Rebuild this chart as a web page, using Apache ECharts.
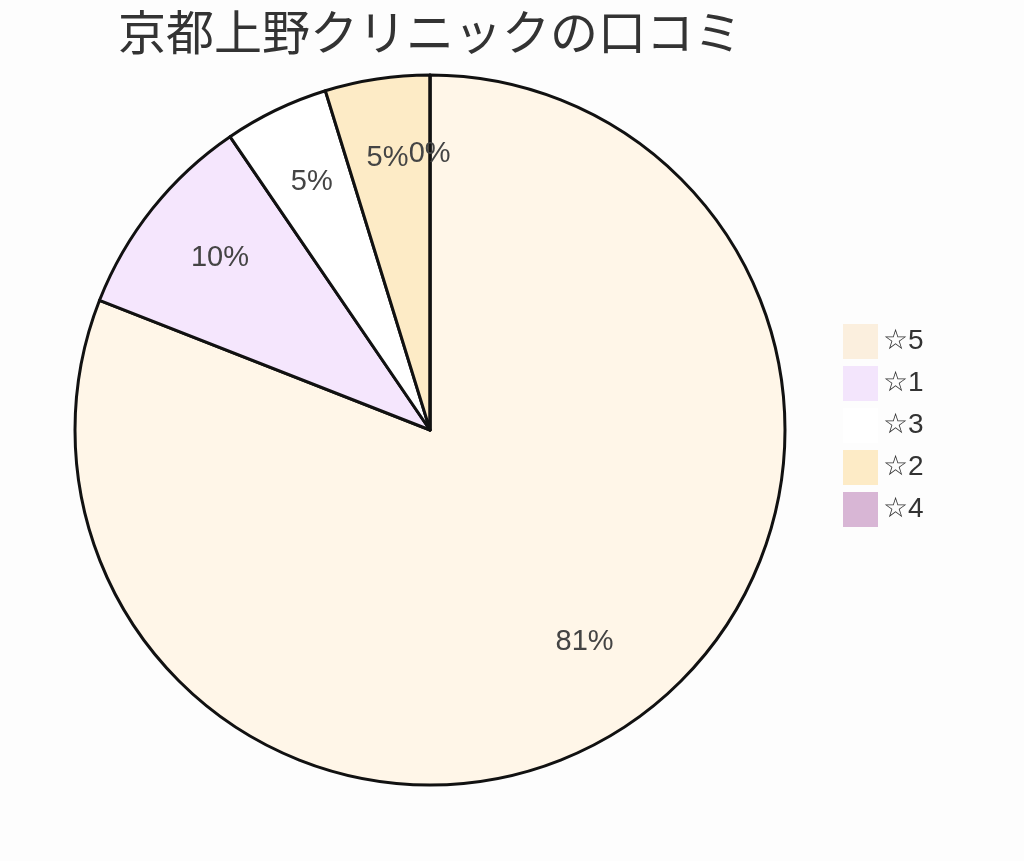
<!DOCTYPE html>
<html>
<head>
<meta charset="utf-8">
<script src="https://cdn.jsdelivr.net/npm/echarts@6/dist/echarts.min.js"></script>
<style>
  html, body { margin: 0; padding: 0; background: #fdfdfd; }
  #charts { width: 1024px; height: 861px; }
</style>
</head>
<body>
<div id="charts"></div>
<script>
// 口コミの件数（☆の数ごと）
var categories = ['☆5', '☆1', '☆3', '☆2', '☆4'];
var counts = [17, 2, 1, 1, 0];
var sliceColors = ['#fff6e8', '#f5e6fd', '#ffffff', '#fdebc6', '#d8b6d5'];
var legendColors = ['#fbefde', '#f3e5fc', '#ffffff', '#fdebc6', '#d8b6d5'];

var myChart = echarts.init(document.getElementById('charts'));

var pieData = categories.map(function (c, i) {
  return { name: c, value: counts[i], itemStyle: { color: sliceColors[i] } };
});
var labelData = categories.map(function (c, i) {
  return { name: c, value: counts[i] };
});

var option = {
  backgroundColor: '#fdfdfd',
  animation: false,
  title: {
    text: '京都上野クリニックの口コミ',
    left: 113,
    top: 3,
    textStyle: {
      fontFamily: 'Noto Sans CJK JP',
      fontSize: 48,
      fontWeight: 'normal',
      color: '#333'
    }
  },
  legend: {
    orient: 'vertical',
    left: 838,
    top: 319,
    itemWidth: 35,
    itemHeight: 35,
    itemGap: 7,
    icon: 'rect',
    selectedMode: false,
    textStyle: { fontSize: 28, color: '#333', fontFamily: 'Liberation Sans' },
    data: categories.map(function (c, i) {
      return { name: c, itemStyle: { color: legendColors[i], borderWidth: 0 } };
    })
  },
  series: [
    {
      name: '口コミ',
      type: 'pie',
      center: [430, 430],
      radius: [0, 355],
      startAngle: 90,
      clockwise: true,
      minAngle: 0,
      stillShowZeroSum: true,
      avoidLabelOverlap: false,
      itemStyle: { borderColor: '#111', borderWidth: 3 },
      label: { show: false },
      labelLine: { show: false },
      emphasis: { disabled: true },
      data: pieData
    },
    {
      // ラベル用の透明なリング
      name: 'ラベル',
      type: 'pie',
      center: [430, 430],
      radius: [175, 355],
      startAngle: 90,
      clockwise: true,
      minAngle: 1,
      silent: true,
      avoidLabelOverlap: false,
      legendHoverLink: false,
      itemStyle: { color: 'transparent', borderWidth: 0 },
      label: {
        show: true,
        position: 'inside',
        offset: [2, -8],
        fontSize: 29,
        color: '#444',
        fontFamily: 'Liberation Sans',
        formatter: function (p) { return Math.round(p.percent) + '%'; }
      },
      labelLine: { show: false },
      data: labelData
    }
  ]
};

myChart.setOption(option);
</script>
</body>
</html>
